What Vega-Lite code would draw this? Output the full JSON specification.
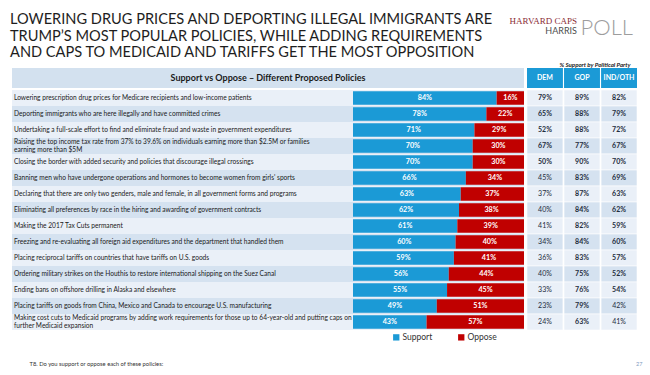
{
  "$schema": "https://vega.github.io/schema/vega-lite/v6.json",
  "background": "white",
  "padding": {"left": 10, "top": 12, "right": 2, "bottom": 4},
  "autosize": {"type": "pad"},
  "bounds": "flush",
  "spacing": 3,
  "datasets": {
    "policies": [
      {"policy": "Lowering prescription drug prices for Medicare recipients and low-income patients", "Support": 0.84, "Oppose": 0.16, "DEM": 0.79, "GOP": 0.89, "IND/OTH": 0.82},
      {"policy": "Deporting immigrants who are here illegally and have committed crimes", "Support": 0.78, "Oppose": 0.22, "DEM": 0.65, "GOP": 0.88, "IND/OTH": 0.79},
      {"policy": "Undertaking a full-scale effort to find and eliminate fraud and waste in government expenditures", "Support": 0.71, "Oppose": 0.29, "DEM": 0.52, "GOP": 0.88, "IND/OTH": 0.72},
      {"policy": "Raising the top income tax rate from 37% to 39.6% on individuals earning more than $2.5M or families|earning more than $5M", "Support": 0.70, "Oppose": 0.30, "DEM": 0.67, "GOP": 0.77, "IND/OTH": 0.67},
      {"policy": "Closing the border with added security and policies that discourage illegal crossings", "Support": 0.70, "Oppose": 0.30, "DEM": 0.50, "GOP": 0.90, "IND/OTH": 0.70},
      {"policy": "Banning men who have undergone operations and hormones to become women from girls' sports", "Support": 0.66, "Oppose": 0.34, "DEM": 0.45, "GOP": 0.83, "IND/OTH": 0.69},
      {"policy": "Declaring that there are only two genders, male and female, in all government forms and programs", "Support": 0.63, "Oppose": 0.37, "DEM": 0.37, "GOP": 0.87, "IND/OTH": 0.63},
      {"policy": "Eliminating all preferences by race in the hiring and awarding of government contracts", "Support": 0.62, "Oppose": 0.38, "DEM": 0.40, "GOP": 0.84, "IND/OTH": 0.62},
      {"policy": "Making the 2017 Tax Cuts permanent", "Support": 0.61, "Oppose": 0.39, "DEM": 0.41, "GOP": 0.82, "IND/OTH": 0.59},
      {"policy": "Freezing and re-evaluating all foreign aid expenditures and the department that handled them", "Support": 0.60, "Oppose": 0.40, "DEM": 0.34, "GOP": 0.84, "IND/OTH": 0.60},
      {"policy": "Placing reciprocal tariffs on countries that have tariffs on U.S. goods", "Support": 0.59, "Oppose": 0.41, "DEM": 0.36, "GOP": 0.83, "IND/OTH": 0.57},
      {"policy": "Ordering military strikes on the Houthis to restore international shipping on the Suez Canal", "Support": 0.56, "Oppose": 0.44, "DEM": 0.40, "GOP": 0.75, "IND/OTH": 0.52},
      {"policy": "Ending bans on offshore drilling in Alaska and elsewhere", "Support": 0.55, "Oppose": 0.45, "DEM": 0.33, "GOP": 0.76, "IND/OTH": 0.54},
      {"policy": "Placing tariffs on goods from China, Mexico and Canada to encourage U.S. manufacturing", "Support": 0.49, "Oppose": 0.51, "DEM": 0.23, "GOP": 0.79, "IND/OTH": 0.42},
      {"policy": "Making cost cuts to Medicaid programs by adding work requirements for those up to 64-year-old and putting caps on|further Medicaid expansion", "Support": 0.43, "Oppose": 0.57, "DEM": 0.24, "GOP": 0.63, "IND/OTH": 0.41}
    ],
    "header": [{"label": "Support vs Oppose – Different Proposed Policies"}],
    "parties": [{"party": "DEM"}, {"party": "GOP"}, {"party": "IND/OTH"}]
  },
  "hconcat": [
    {
      "width": 512,
      "height": 256,
      "title": {
        "text": ["LOWERING DRUG PRICES AND DEPORTING ILLEGAL IMMIGRANTS ARE", "TRUMP’S MOST POPULAR POLICIES, WHILE ADDING REQUIREMENTS", "AND CAPS TO MEDICAID AND TARIFFS GET THE MOST OPPOSITION"],
        "anchor": "start", "frame": "group", "dx": -2, "offset": 8.4,
        "font": "Lato", "fontSize": 14.6, "fontWeight": "normal", "lineHeight": 16.4, "color": "#1e1e1e"
      },
      "data": {"name": "policies"},
      "encoding": {
        "y": {
          "field": "policy", "type": "nominal",
          "scale": {"domain": ["H",
            "Lowering prescription drug prices for Medicare recipients and low-income patients",
            "Deporting immigrants who are here illegally and have committed crimes",
            "Undertaking a full-scale effort to find and eliminate fraud and waste in government expenditures",
            "Raising the top income tax rate from 37% to 39.6% on individuals earning more than $2.5M or families|earning more than $5M",
            "Closing the border with added security and policies that discourage illegal crossings",
            "Banning men who have undergone operations and hormones to become women from girls' sports",
            "Declaring that there are only two genders, male and female, in all government forms and programs",
            "Eliminating all preferences by race in the hiring and awarding of government contracts",
            "Making the 2017 Tax Cuts permanent",
            "Freezing and re-evaluating all foreign aid expenditures and the department that handled them",
            "Placing reciprocal tariffs on countries that have tariffs on U.S. goods",
            "Ordering military strikes on the Houthis to restore international shipping on the Suez Canal",
            "Ending bans on offshore drilling in Alaska and elsewhere",
            "Placing tariffs on goods from China, Mexico and Canada to encourage U.S. manufacturing",
            "Making cost cuts to Medicaid programs by adding work requirements for those up to 64-year-old and putting caps on|further Medicaid expansion"],
            "paddingInner": 0, "paddingOuter": 0},
          "axis": {
            "orient": "left", "title": null, "labelAlign": "left", "labelPadding": -1.5,
            "labelFont": "Lato", "labelFontSize": 6.6, "labelColor": "#1a1a1a", "labelLimit": 500,
            "labelLineHeight": 8.5, "labelBaseline": "middle", "labelOverlap": false, "labelBound": false,
            "labelOffset": {"condition": {"test": "indexof(datum.value, '|') >= 0", "value": -4.25}, "value": 0},
            "labelExpr": "datum.value == 'H' ? '' : split(datum.value, '|')",
            "zindex": 2, "ticks": false, "domain": false, "grid": false
          }
        }
      },
      "layer": [
        {
          "transform": [{"window": [{"op": "row_number", "as": "rn"}]}],
          "mark": {"type": "rect"},
          "encoding": {
            "fill": {"condition": {"test": "datum.rn % 2 == 0", "value": "#d5e2f0"}, "value": "#eaf0f8"}
          }
        },
        {
          "data": {"name": "header"},
          "mark": {"type": "rect", "height": 20, "yOffset": -4, "color": "#d3e1ef"},
          "encoding": {"y": {"datum": "H", "type": "nominal"}}
        },
        {
          "data": {"name": "header"},
          "mark": {"type": "text", "font": "Lato", "fontWeight": "bold", "fontSize": 9, "color": "#1a1a1a", "dy": -4},
          "encoding": {"y": {"datum": "H", "type": "nominal"}, "text": {"field": "label"}}
        },
        {
          "transform": [
            {"fold": ["Support", "Oppose"], "as": ["key", "value"]},
            {"stack": "value", "groupby": ["policy"], "sort": [{"field": "key", "order": "descending"}], "as": ["x0", "x1"]}
          ],
          "mark": {"type": "bar", "height": 13.5},
          "encoding": {
            "x": {
              "field": "x0", "type": "quantitative",
              "scale": {"domain": [-1.9942, 1], "nice": false, "zero": false},
              "axis": {
                "labels": false, "ticks": false, "domain": false, "grid": false,
                "title": "T8. Do you support or oppose each of these policies:",
                "titleX": 17, "titleY": 35, "titleAlign": "left", "titleBaseline": "alphabetic",
                "titleFont": "Lato", "titleFontSize": 5.8, "titleFontWeight": "normal", "titleColor": "#333333"
              }
            },
            "x2": {"field": "x1"},
            "color": {
              "field": "key", "type": "nominal",
              "scale": {"domain": ["Support", "Oppose"], "range": ["#1b9ad6", "#c00000"]},
              "legend": {
                "title": null, "orient": "none", "legendX": 380, "legendY": 259, "direction": "horizontal",
                "symbolType": "square", "symbolSize": 40, "symbolStrokeWidth": 0,
                "labelFont": "Lato", "labelFontSize": 8.5, "labelColor": "#333333", "labelOffset": 2, "columnPadding": 24
              }
            }
          }
        },
        {
          "transform": [
            {"fold": ["Support", "Oppose"], "as": ["key", "value"]},
            {"stack": "value", "groupby": ["policy"], "sort": [{"field": "key", "order": "descending"}], "as": ["x0", "x1"]},
            {"fold": ["x0", "x1"], "as": ["edge", "pos"]},
            {"aggregate": [{"op": "mean", "field": "pos", "as": "mid"}], "groupby": ["policy", "key", "value"]}
          ],
          "mark": {"type": "text", "font": "Lato", "fontSize": 7.2, "fontWeight": "bold", "color": "white"},
          "encoding": {
            "x": {
              "field": "mid", "type": "quantitative",
              "axis": {
                "labels": false, "ticks": false, "domain": false, "grid": false,
                "title": "T8. Do you support or oppose each of these policies:",
                "titleX": 17, "titleY": 35, "titleAlign": "left", "titleBaseline": "alphabetic",
                "titleFont": "Lato", "titleFontSize": 5.8, "titleFontWeight": "normal", "titleColor": "#333333"
              }
            },
            "text": {"field": "value", "type": "quantitative", "format": ".0%"}
          }
        }
      ]
    },
    {
      "width": 110,
      "height": 256,
      "title": {
        "text": "HARVARD CAPS", "subtitle": "HARRIS",
        "anchor": "end", "frame": "group", "dx": -60, "offset": -20,
        "font": "Liberation Serif", "fontSize": 9, "fontWeight": "normal", "color": "#8a2b35",
        "subtitleFont": "Lato", "subtitleFontSize": 9, "subtitleColor": "#4d4d4d", "subtitlePadding": 1
      },
      "data": {"name": "policies"},
      "encoding": {
        "y": {
          "field": "policy", "type": "nominal",
          "scale": {"domain": ["H",
            "Lowering prescription drug prices for Medicare recipients and low-income patients",
            "Deporting immigrants who are here illegally and have committed crimes",
            "Undertaking a full-scale effort to find and eliminate fraud and waste in government expenditures",
            "Raising the top income tax rate from 37% to 39.6% on individuals earning more than $2.5M or families|earning more than $5M",
            "Closing the border with added security and policies that discourage illegal crossings",
            "Banning men who have undergone operations and hormones to become women from girls' sports",
            "Declaring that there are only two genders, male and female, in all government forms and programs",
            "Eliminating all preferences by race in the hiring and awarding of government contracts",
            "Making the 2017 Tax Cuts permanent",
            "Freezing and re-evaluating all foreign aid expenditures and the department that handled them",
            "Placing reciprocal tariffs on countries that have tariffs on U.S. goods",
            "Ordering military strikes on the Houthis to restore international shipping on the Suez Canal",
            "Ending bans on offshore drilling in Alaska and elsewhere",
            "Placing tariffs on goods from China, Mexico and Canada to encourage U.S. manufacturing",
            "Making cost cuts to Medicaid programs by adding work requirements for those up to 64-year-old and putting caps on|further Medicaid expansion"],
            "paddingInner": 0, "paddingOuter": 0},
          "axis": {
            "orient": "right", "labels": false, "ticks": false, "domain": false, "grid": false,
            "title": "POLL", "titleAngle": 0, "titleX": -57, "titleY": -39.7, "titleAlign": "left", "titleBaseline": "alphabetic",
            "titleFont": "Lato", "titleFontWeight": 300, "titleFontSize": 22, "titleColor": "#9d9d9d"
          }
        }
      },
      "resolve": {"axis": {"x": "independent"}},
      "layer": [
        {
          "transform": [
            {"window": [{"op": "row_number", "as": "rn"}]},
            {"fold": ["DEM", "GOP", "IND/OTH"], "as": ["party", "val"]}
          ],
          "mark": {"type": "rect", "stroke": "white", "strokeWidth": 0.6},
          "encoding": {
            "x": {
              "field": "party", "type": "nominal",
              "scale": {"domain": ["DEM", "GOP", "IND/OTH"], "paddingInner": 0.03, "paddingOuter": 0},
              "axis": {
                "orient": "top", "labels": false, "ticks": false, "domain": false, "grid": false,
                "title": "% Support by Political Party", "titleX": 103, "titleY": -7.7, "titleAlign": "right", "titleBaseline": "alphabetic",
                "titleFont": "Lato", "titleFontSize": 6.1, "titleFontStyle": "italic", "titleFontWeight": "bold", "titleColor": "#1a1a1a"
              }
            },
            "fill": {"condition": {"test": "datum.rn % 2 == 0", "value": "#d5e2f0"}, "value": "#eaf0f8"}
          }
        },
        {
          "transform": [
            {"fold": ["DEM", "GOP", "IND/OTH"], "as": ["party", "val"]},
            {"filter": "datum.val >= 0.5"}
          ],
          "mark": {"type": "text", "font": "Lato", "fontSize": 7, "fontWeight": "bold", "color": "#1f2d3d"},
          "encoding": {
            "x": {"field": "party", "type": "nominal", "axis": null},
            "text": {"field": "val", "type": "quantitative", "format": ".0%"}
          }
        },
        {
          "transform": [
            {"fold": ["DEM", "GOP", "IND/OTH"], "as": ["party", "val"]},
            {"filter": "datum.val < 0.5"}
          ],
          "mark": {"type": "text", "font": "Lato", "fontSize": 7, "fontWeight": "normal", "color": "#1f2d3d"},
          "encoding": {
            "x": {"field": "party", "type": "nominal", "axis": null},
            "text": {"field": "val", "type": "quantitative", "format": ".0%"}
          }
        },
        {
          "data": {"name": "parties"},
          "mark": {"type": "rect", "height": 20, "yOffset": -4, "color": "#1b9ad6"},
          "encoding": {
            "x": {
              "field": "party", "type": "nominal",
              "axis": {
                "orient": "bottom", "labels": false, "ticks": false, "domain": false, "grid": false,
                "title": "27", "titleX": 115, "titleY": 35, "titleAlign": "right", "titleBaseline": "alphabetic",
                "titleFont": "Lato", "titleFontSize": 5.5, "titleFontWeight": "normal", "titleColor": "#7f9cc0"
              }
            },
            "y": {"datum": "H", "type": "nominal"}
          }
        },
        {
          "data": {"name": "parties"},
          "mark": {"type": "text", "font": "Lato", "fontSize": 7, "fontWeight": "bold", "color": "white", "dy": -4},
          "encoding": {
            "x": {"field": "party", "type": "nominal", "axis": null},
            "y": {"datum": "H", "type": "nominal"},
            "text": {"field": "party"}
          }
        }
      ]
    }
  ],
  "config": {
    "view": {"stroke": null},
    "font": "Lato",
    "axis": {"grid": false}
  }
}
